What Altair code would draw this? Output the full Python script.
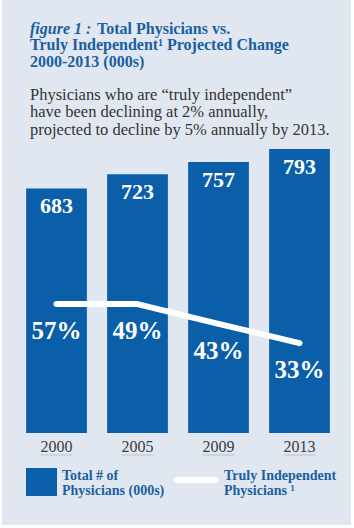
import altair as alt
import pandas as pd

# ---- data ----
years = ["2000", "2005", "2009", "2013"]
totals = [683, 723, 757, 793]              # total physicians (000s)
share_labels = ["57%", "49%", "43%", "33%"]  # truly independent share
trend = [360, 360, 305, 251]               # white trend line level

df = pd.DataFrame({"year": years, "total": totals, "share": share_labels, "trend": trend})

BLUE = "#0b5ea8"
TBLUE = "#1b5f9f"
BG = "#e1e7f1"
SERIF = "Liberation Serif"

xs = alt.X("year:N", scale=alt.Scale(range=[16, 340], paddingInner=0.25, paddingOuter=0.125), axis=None)
ys = alt.Y("total:Q", scale=alt.Scale(domain=[0, 810], range=[433, 143]), axis=None)
yt = alt.Y("trend:Q", scale=alt.Scale(domain=[0, 810], range=[433, 143]), axis=None)

panel = alt.Chart(pd.DataFrame({"k": ["panel"]})).mark_rect(color=BG).encode(
    x=alt.value(2), x2=alt.value(351), y=alt.value(0), y2=alt.value(525))

base = alt.Chart(df)

bars = base.mark_bar(color=BLUE).encode(x=xs, y=ys)
val_txt = base.mark_text(font=SERIF, fontWeight="bold", fontSize=22, color="white",
                         baseline="alphabetic", dy=25).encode(x=xs, y=ys, text="total:Q")
line = base.mark_line(color="white", strokeWidth=6, strokeCap="round", strokeJoin="round").encode(x=xs, y=yt)
pct_txt = base.mark_text(font=SERIF, fontWeight="bold", fontSize=25, color="white",
                         baseline="alphabetic", dy=35).encode(x=xs, y=yt, text="share:N")
yr_txt = base.mark_text(font=SERIF, fontSize=16, color="#3a3a3a", baseline="alphabetic").encode(
    x=xs, y=alt.value(452), text="year:N")
yr_ul = base.mark_tick(color="#aab5c9", thickness=1, size=32, orient="horizontal").encode(
    x=xs, y=alt.value(455))


def label(text, x, y, size, color, weight="normal", style="normal", font=SERIF):
    return alt.Chart(pd.DataFrame({"t": [text]})).mark_text(
        font=font, fontSize=size, fontWeight=weight, fontStyle=style, color=color,
        align="left", baseline="alphabetic").encode(x=alt.value(x), y=alt.value(y), text="t:N")


texts = [
    label("figure 1 :", 30, 34, 16, TBLUE, "bold", "italic"),
    label("Total Physicians vs.", 97, 34, 16, TBLUE, "bold"),
    label("Truly Independent\u00b9 Projected Change", 30, 50, 16, TBLUE, "bold"),
    label("2000-2013 (000s)", 30, 67, 16, TBLUE, "bold"),
    label("Physicians who are \u201ctruly independent\u201d", 30, 99.5, 16.5, "#333333"),
    label("have been declining at 2% annually,", 30, 117, 16.5, "#333333"),
    label("projected to decline by 5% annually by 2013.", 30, 134.5, 16.5, "#333333"),
    label("Total # of", 62, 480, 14, TBLUE, "bold"),
    label("Physicians (000s)", 62, 495, 14, TBLUE, "bold"),
    label("Truly Independent", 224, 480, 14, TBLUE, "bold"),
    label("Physicians \u00b9", 224, 495, 14, TBLUE, "bold"),
]

leg_sq = alt.Chart(pd.DataFrame({"k": ["Total # of Physicians (000s)"]})).mark_rect(color=BLUE).encode(
    x=alt.value(26), x2=alt.value(57), y=alt.value(468), y2=alt.value(496))
leg_line = alt.Chart(pd.DataFrame({"k": ["Truly Independent Physicians"]})).mark_rule(
    color="white", strokeWidth=6, strokeCap="round").encode(
    x=alt.value(177), x2=alt.value(215), y=alt.value(480))

chart = alt.layer(panel, bars, val_txt, line, pct_txt, yr_txt, yr_ul, leg_sq, leg_line, *texts).properties(
    width=354, height=528, background="white", padding=0,
    autosize=alt.AutoSizeParams(type="none"),
).configure_view(stroke=None)

chart.save("out.html", embed_options={"renderer": "svg", "actions": False})
